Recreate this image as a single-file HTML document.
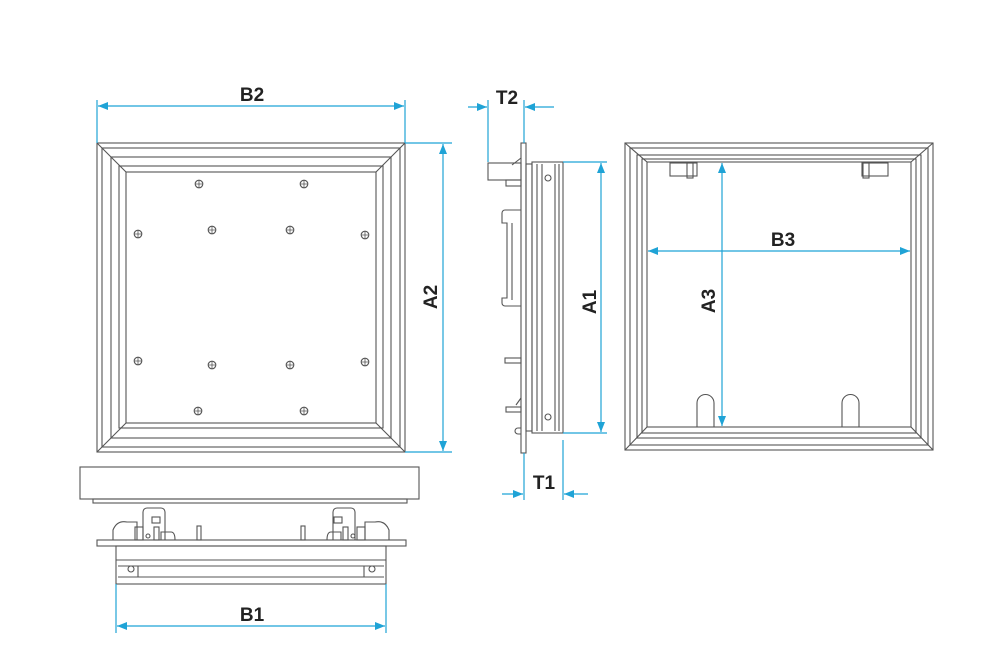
<!DOCTYPE html>
<html><head><meta charset="utf-8"><style>
html,body{margin:0;padding:0;background:#fff;width:1000px;height:668px;overflow:hidden}
svg{display:block}
text{font-family:"Liberation Sans",sans-serif;font-weight:bold;font-size:19px;fill:#222}
</style></head><body>
<svg width="1000" height="668" viewBox="0 0 1000 668" xmlns="http://www.w3.org/2000/svg">
<defs>
<marker id="ar" viewBox="0 0 10 10" refX="10" refY="5" markerWidth="14" markerHeight="10" markerUnits="userSpaceOnUse" orient="auto-start-reverse"><path d="M0,1 L10,5 L0,9 z" fill="#1fa3d6"/></marker>
</defs>
<g fill="none" stroke="#555" stroke-width="1.1">
<!-- front view -->
<rect x="97" y="143" width="308" height="309"/>
<rect x="102" y="148" width="298" height="299"/>
<rect x="111" y="157" width="280" height="281"/>
<rect x="119" y="166" width="264" height="262"/>
<rect x="126" y="172" width="250" height="251"/>
<line x1="97" y1="143" x2="126" y2="172"/><line x1="405" y1="143" x2="376" y2="172"/>
<line x1="97" y1="452" x2="126" y2="423"/><line x1="405" y1="452" x2="376" y2="423"/>
<g id="scr">
<circle cx="199" cy="184" r="3.8"/><circle cx="304" cy="184" r="3.8"/><circle cx="138" cy="234" r="3.8"/><circle cx="212" cy="230" r="3.8"/><circle cx="290" cy="230" r="3.8"/><circle cx="365" cy="235" r="3.8"/><circle cx="138" cy="361" r="3.8"/><circle cx="212" cy="365" r="3.8"/><circle cx="290" cy="365" r="3.8"/><circle cx="365" cy="362" r="3.8"/><circle cx="198" cy="411" r="3.8"/><circle cx="304" cy="411" r="3.8"/>
</g>
<path d="M195,184h8M199,180v8M300,184h8M304,180v8M134,234h8M138,230v8M208,230h8M212,226v8M286,230h8M290,226v8M361,235h8M365,231v8M134,361h8M138,357v8M208,365h8M212,361v8M286,365h8M290,361v8M361,362h8M365,358v8M194,411h8M198,407v8M300,411h8M304,407v8" stroke-width="0.8"/>
<!-- bottom view -->
<rect x="80" y="467" width="339" height="32"/>
<rect x="93" y="499" width="314" height="4"/>
<rect x="97" y="540" width="309" height="6"/>
<rect x="116" y="546" width="270" height="38"/>
<line x1="116" y1="560" x2="386" y2="560"/><line x1="118" y1="566" x2="384" y2="566"/><line x1="118" y1="577" x2="384" y2="577"/>
<line x1="138" y1="566" x2="138" y2="577"/><line x1="364" y1="566" x2="364" y2="577"/>
<circle cx="131" cy="569" r="3"/><circle cx="372" cy="569" r="3"/>
<path d="M143,540 V512 a4,4 0 0 1 4,-4 h14 a4,4 0 0 1 4,4 V540"/>
<path d="M113,540 V530 q4,-10 14,-8 h10 v18"/><rect x="135" y="527" width="8" height="13"/>
<rect x="154" y="527" width="5" height="13"/><path d="M161,540 v-8 h10 q4,0 4,8"/>
<rect x="152" y="517" width="8" height="6"/><circle cx="148" cy="536" r="2"/>
<rect x="197" y="526" width="4" height="14"/><rect x="301" y="526" width="4" height="14"/>
<path d="M333,540 V512 a4,4 0 0 1 4,-4 h14 a4,4 0 0 1 4,4 V540"/>
<path d="M389,540 V530 q-4,-10 -14,-8 h-10 v18"/><rect x="357" y="527" width="8" height="13"/>
<rect x="343" y="527" width="5" height="13"/><path d="M341,540 v-8 h-10 q-4,0 -4,8"/>
<rect x="334" y="517" width="8" height="6"/><circle cx="353" cy="536" r="2"/>
<!-- side view -->
<rect x="521" y="143" width="5" height="310"/>
<rect x="532" y="162" width="31" height="271"/>
<line x1="537" y1="164" x2="537" y2="431"/><line x1="542" y1="164" x2="542" y2="431"/><line x1="555" y1="164" x2="555" y2="431"/><line x1="559" y1="164" x2="559" y2="431"/>
<rect x="526" y="164" width="6" height="267"/>
<circle cx="548" cy="178" r="3"/><circle cx="548" cy="417" r="3"/>
<rect x="488" y="163" width="33" height="17"/><rect x="506" y="180" width="15" height="6"/>
<line x1="521" y1="158" x2="512" y2="165"/>
<path d="M521,210 h-16 a3,3 0 0 0 -3,3 v10 h5 v75 h-5 v5 a3,3 0 0 0 3,3 h16"/><line x1="512" y1="223" x2="512" y2="300"/>
<rect x="505" y="358" width="16" height="5"/><rect x="506" y="407" width="15" height="5"/>
<line x1="516" y1="405" x2="521" y2="398"/><path d="M521,428 h-3 a3,3 0 0 0 0,6 h3"/>
<!-- right view -->
<rect x="625" y="143" width="308" height="307"/>
<rect x="630" y="148" width="298" height="297"/>
<rect x="637" y="155" width="284" height="283"/>
<rect x="642" y="159" width="274" height="274"/>
<rect x="647" y="162" width="264" height="265"/>
<line x1="625" y1="143" x2="647" y2="162"/><line x1="933" y1="143" x2="911" y2="162"/>
<line x1="625" y1="450" x2="647" y2="427"/><line x1="933" y1="450" x2="911" y2="427"/>
<rect x="670" y="163" width="27" height="13"/><rect x="687" y="163" width="6" height="15"/>
<rect x="862" y="163" width="26" height="13"/><rect x="863" y="163" width="6" height="15"/>
<path d="M697,427 V403 a8.5,8.5 0 0 1 17,0 V427"/>
<path d="M842,427 V403 a8.5,8.5 0 0 1 17,0 V427"/>
</g>
<!-- dimensions -->
<g stroke="#1fa3d6" stroke-width="1.2" fill="none">
<line x1="97" y1="100" x2="97" y2="143"/><line x1="405" y1="100" x2="405" y2="143"/>
<line x1="98" y1="106" x2="404" y2="106" marker-start="url(#ar)" marker-end="url(#ar)"/>
<line x1="405" y1="143" x2="452" y2="143"/><line x1="405" y1="452" x2="452" y2="452"/>
<line x1="443" y1="144" x2="443" y2="451" marker-start="url(#ar)" marker-end="url(#ar)"/>
<line x1="116" y1="584" x2="116" y2="633"/><line x1="386" y1="584" x2="386" y2="633"/>
<line x1="117" y1="626" x2="385" y2="626" marker-start="url(#ar)" marker-end="url(#ar)"/>
<line x1="488" y1="100" x2="488" y2="162"/><line x1="524" y1="100" x2="524" y2="143"/>
<line x1="468" y1="107" x2="487" y2="107" marker-end="url(#ar)"/><line x1="554" y1="107" x2="525" y2="107" marker-end="url(#ar)"/>
<line x1="524" y1="453" x2="524" y2="500"/><line x1="563" y1="440" x2="563" y2="500"/>
<line x1="502" y1="494" x2="523" y2="494" marker-end="url(#ar)"/><line x1="588" y1="494" x2="564" y2="494" marker-end="url(#ar)"/>
<line x1="563" y1="162" x2="607" y2="162"/><line x1="563" y1="433" x2="607" y2="433"/>
<line x1="601" y1="163" x2="601" y2="432" marker-start="url(#ar)" marker-end="url(#ar)"/>
<line x1="648" y1="251" x2="910" y2="251" marker-start="url(#ar)" marker-end="url(#ar)"/>
<line x1="722" y1="163" x2="722" y2="426" marker-start="url(#ar)" marker-end="url(#ar)"/>
</g>
<text x="252" y="101" text-anchor="middle">B2</text>
<text transform="translate(437,297) rotate(-90)" text-anchor="middle">A2</text>
<text x="252" y="621" text-anchor="middle">B1</text>
<text x="507" y="104" text-anchor="middle">T2</text>
<text x="544" y="489" text-anchor="middle">T1</text>
<text transform="translate(596,302) rotate(-90)" text-anchor="middle">A1</text>
<text x="783" y="246" text-anchor="middle">B3</text>
<text transform="translate(715,301) rotate(-90)" text-anchor="middle">A3</text>
</svg>
</body></html>
